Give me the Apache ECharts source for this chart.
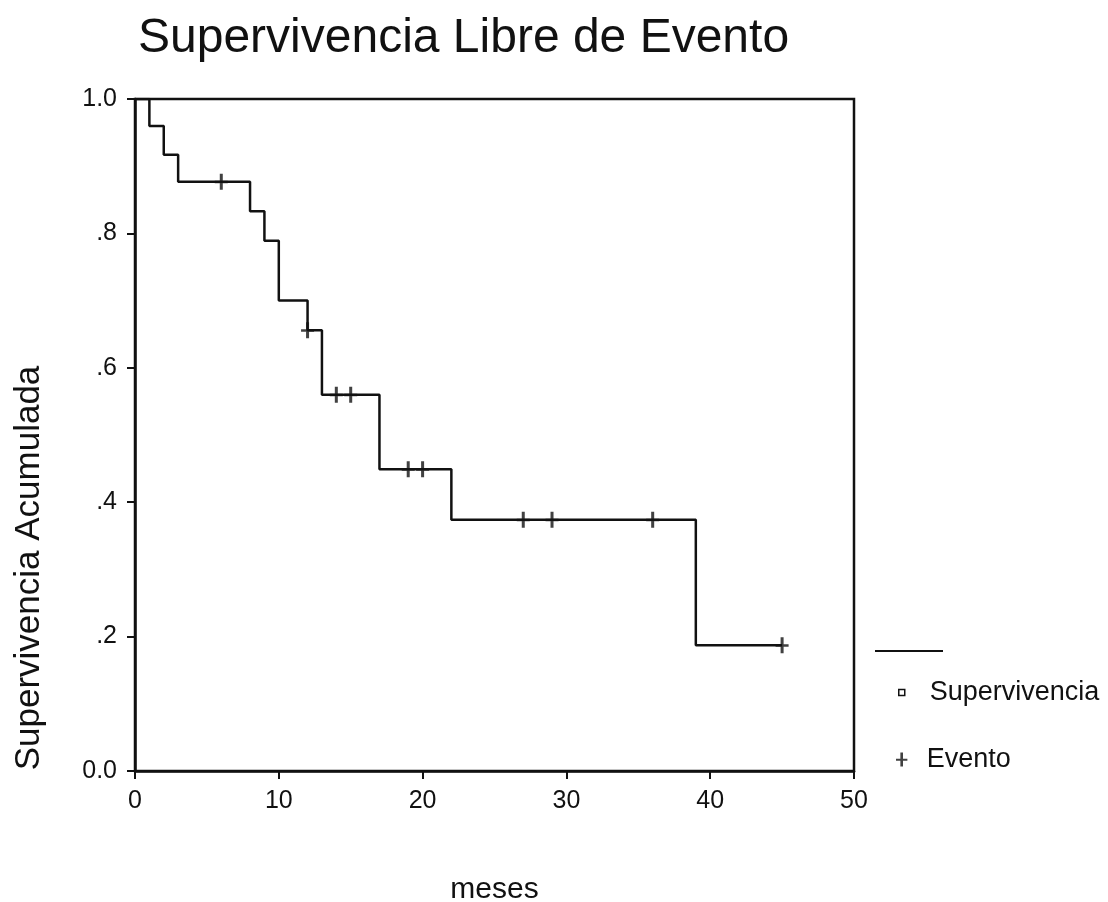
<!DOCTYPE html>
<html>
<head>
<meta charset="utf-8">
<script src="https://cdn.jsdelivr.net/npm/echarts@6/dist/echarts.min.js"></script>
<style>
  html, body { margin: 0; padding: 0; background: #fff; }
  #chart { width: 1108px; height: 902px; }
</style>
</head>
<body>
<div id="chart"></div>
<script>
// Kaplan-Meier steps (meses, supervivencia acumulada)
const stepTimes = [0, 1, 2, 3, 8, 9, 10, 12, 13, 17, 22, 39, 45];
const stepSurv = [1, 0.96, 0.917, 0.877, 0.833, 0.789, 0.70, 0.656, 0.56, 0.449, 0.374, 0.187, 0.187];
// censored cases ("Evento" marks)
const censorTimes = [6, 12, 14, 15, 19, 20, 27, 29, 36, 45];
const censorSurv = [0.877, 0.656, 0.56, 0.56, 0.449, 0.449, 0.374, 0.374, 0.374, 0.187];
const xTicks = [0, 10, 20, 30, 40, 50];
const yTickLabels = { 0: '0.0', 0.2: '.2', 0.4: '.4', 0.6: '.6', 0.8: '.8', 1: '1.0' };

const font = 'Liberation Sans, Arial, sans-serif';
const chart = echarts.init(document.getElementById('chart'));

const plusIcon = 'path://M5,0h3v16h-3z M0,7h13v2.5h-13z';

chart.setOption({
  animation: false,
  backgroundColor: '#fff',
  title: {
    text: 'Supervivencia Libre de Evento',
    left: 133,
    top: 10,
    textStyle: { fontFamily: font, fontSize: 48, fontWeight: 'normal', color: '#111' }
  },
  grid: {
    left: 135, right: 254, top: 99, bottom: 131,
    outerBoundsMode: 'none', containLabel: false,
    show: true, borderColor: '#111', borderWidth: 2.5, backgroundColor: 'transparent'
  },
  xAxis: {
    type: 'value', min: 0, max: 50, interval: 10,
    name: 'meses', nameLocation: 'middle', nameGap: 104,
    nameTextStyle: { fontFamily: font, fontSize: 30, color: '#111' },
    axisLine: { lineStyle: { color: '#111', width: 2.5 } },
    axisTick: { show: true, length: 8, lineStyle: { color: '#111', width: 2 } },
    axisLabel: { margin: 18, fontFamily: font, fontSize: 25, color: '#111' },
    splitLine: { show: false }
  },
  yAxis: {
    type: 'value', min: 0, max: 1, interval: 0.2,
    axisLine: { show: true, lineStyle: { color: '#111', width: 2.5 } },
    axisTick: { show: true, length: 8, lineStyle: { color: '#111', width: 2 } },
    axisLabel: {
      margin: 18, fontFamily: font, fontSize: 25, color: '#111',
      formatter: v => yTickLabels[Math.round(v * 10) / 10]
    },
    splitLine: { show: false }
  },
  legend: [
    {
      orient: 'vertical', left: 893, top: 674,
      itemWidth: 6, itemHeight: 6,
      textStyle: { fontFamily: font, fontSize: 27, color: '#111', padding: [0, 0, 0, 20] },
      data: [{ name: 'Supervivencia', icon: 'rect',
        itemStyle: { color: '#fff', borderColor: '#111', borderWidth: 1.5 } }]
    },
    {
      orient: 'vertical', left: 891, top: 741,
      itemWidth: 12, itemHeight: 14,
      textStyle: { fontFamily: font, fontSize: 27, color: '#111', padding: [0, 0, 0, 14] },
      data: [{ name: 'Evento', icon: plusIcon, itemStyle: { color: '#111' } }]
    }
  ],
  graphic: [
    {
      type: 'line',
      shape: { x1: 875, y1: 651, x2: 943, y2: 651 },
      style: { stroke: '#111', lineWidth: 2 }
    },
    {
      type: 'text',
      x: 29, y: 568, rotation: Math.PI / 2,
      style: {
        text: 'Supervivencia Acumulada', fontFamily: font, fontSize: 35,
        fill: '#111', align: 'center', verticalAlign: 'middle'
      }
    }
  ],
  series: [
    {
      name: 'Supervivencia',
      type: 'line',
      step: 'end',
      showSymbol: false,
      lineStyle: { color: '#111', width: 2.5 },
      itemStyle: { color: '#111' },
      data: stepTimes.map((t, i) => [t, stepSurv[i]])
    },
    {
      name: 'Evento',
      type: 'scatter',
      symbol: plusIcon,
      symbolSize: [13, 16],
      itemStyle: { color: '#111' },
      data: censorTimes.map((t, i) => [t, censorSurv[i]])
    }
  ]
});
</script>
</body>
</html>
